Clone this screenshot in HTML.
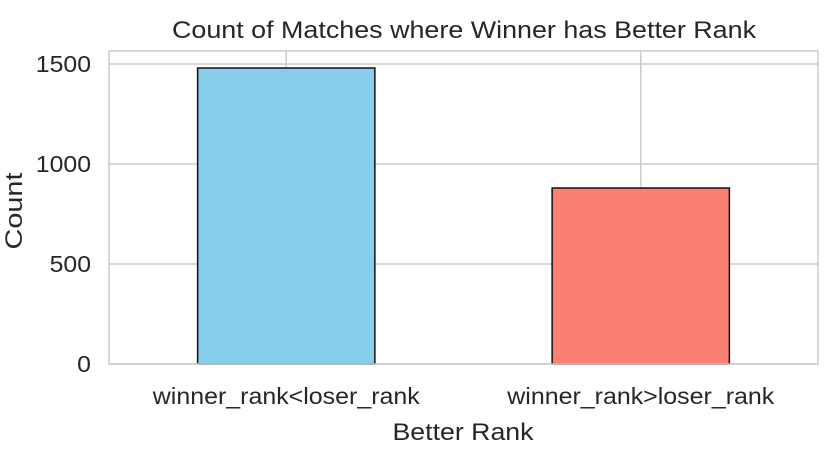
<!DOCTYPE html>
<html><head><meta charset="utf-8"><style>
body{margin:0;background:#fff;}
svg text{font-family:"Liberation Sans Narrow","Liberation Sans",sans-serif;fill:#262626;}
</style></head><body>
<svg width="838" height="462" xmlns="http://www.w3.org/2000/svg">
<g id="chart"></g>
</svg>
<script>
const categories=["winner_rank<loser_rank","winner_rank>loser_rank"];
const counts=[1480,880];
const colors=["#87ceeb","#fa8072"];
const yTicks=[0,500,1000,1500];
const L=109,R=818,T=51,B=364;
const y=v=>B-v*0.2;
const x=i=>L+(i+0.5)*(R-L)/categories.length;
const bw=(R-L)/categories.length*0.5;
const ns="http://www.w3.org/2000/svg";
const g=document.getElementById('chart');
function mk(t,a,txt){const e=document.createElementNS(ns,t);for(const k in a)e.setAttribute(k,a[k]);if(txt!==undefined)e.textContent=txt;g.appendChild(e);return e;}
yTicks.forEach(v=>{
const l=mk('line',{x1:L,x2:R,y1:y(v),y2:y(v),stroke:'#cccccc','stroke-width':1.5});


const s=String(v);
const t=mk('text',{x:L-18,y:y(v)+8,'text-anchor':'end','font-size':23,textLength:s.length*13.8,lengthAdjust:'spacingAndGlyphs'},s);


});
categories.forEach((c,i)=>{
const l=mk('line',{x1:x(i),x2:x(i),y1:T,y2:B,stroke:'#cccccc','stroke-width':1.5});


});
categories.forEach((c,i)=>{
const r=mk('rect',{x:x(i)-bw/2,y:y(counts[i]),width:bw,height:B-y(counts[i]),fill:colors[i],stroke:'#111','stroke-width':1.5});


const t=mk('text',{x:x(i),y:404,'text-anchor':'middle','font-size':23,textLength:267,lengthAdjust:'spacingAndGlyphs'},c);


});
const f=mk('rect',{x:L,y:T,width:R-L,height:B-T,fill:'none',stroke:'#cccccc','stroke-width':1.5});


const ti=mk('text',{x:464,y:38,'text-anchor':'middle','font-size':24,textLength:584,lengthAdjust:'spacingAndGlyphs'},'Count of Matches where Winner has Better Rank');


const xt=mk('text',{x:463,y:440,'text-anchor':'middle','font-size':24,textLength:141,lengthAdjust:'spacingAndGlyphs'},'Better Rank');


const yt=mk('text',{x:22,y:211,'text-anchor':'middle','font-size':24,textLength:77,lengthAdjust:'spacingAndGlyphs',transform:'rotate(-90 22 211)'},'Count');


</script>
</body></html>
